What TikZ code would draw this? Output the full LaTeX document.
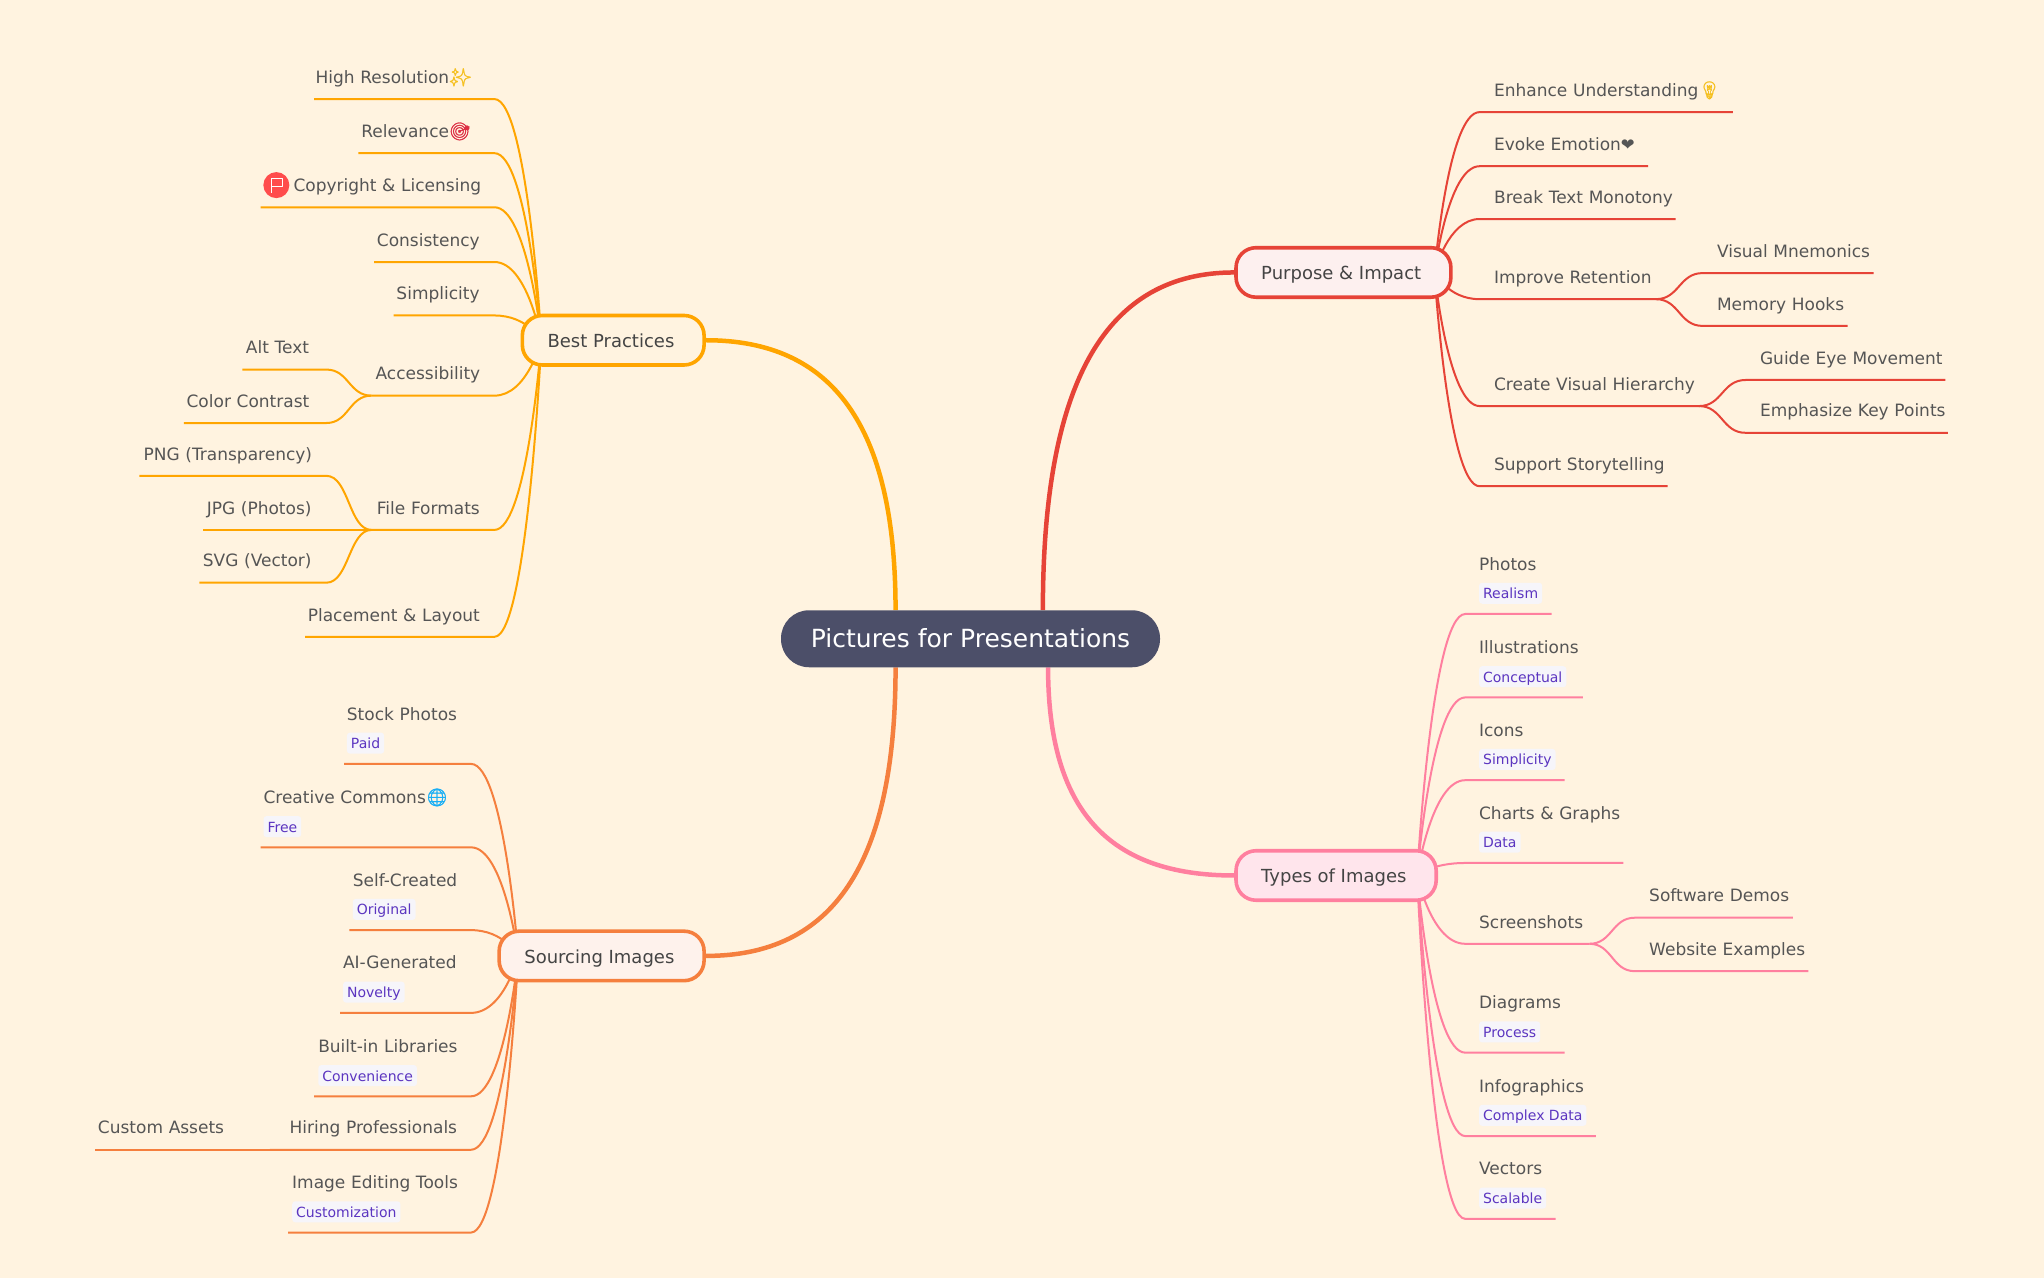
\documentclass[tikz,border=0pt]{standalone}
\usepackage{fontspec}
\setmainfont{DejaVu Sans}
\newfontfamily\emojifont[FakeBold=1.5]{Noto Emoji}
\usetikzlibrary{calc,backgrounds}

\definecolor{paper}{HTML}{FFF3E0}
\definecolor{rootfill}{HTML}{4C4F69}
\definecolor{bodytext}{HTML}{555555}
\definecolor{maintext}{HTML}{444444}
\definecolor{tagtext}{HTML}{5B35C0}
\definecolor{tagfill}{HTML}{F6F5FA}
\definecolor{purposecol}{HTML}{E64337}
\definecolor{bestcol}{HTML}{FFA500}
\definecolor{sourcecol}{HTML}{F57F3E}
\definecolor{typescol}{HTML}{FF7F9F}
\definecolor{emoyellow}{HTML}{F5C020}
\definecolor{emored}{HTML}{DD2E44}
\definecolor{emoblue}{HTML}{18AEF5}

\newcommand{\emo}[2]{\makebox[28.7pt][l]{\color{#1}\fontsize{17.5}{20}\emojifont #2}}

\begin{document}
\begin{tikzpicture}[
    x=1.3036pt,
    y=-1.3036pt,
    rootnode/.style={
        rectangle,
        fill=rootfill,
        text=white,
        rounded corners=28pt,
        minimum width=379pt,
        minimum height=57pt,
        inner sep=0pt,
        text height=21pt,
        text depth=4pt,
        font=\fontsize{25}{30}\selectfont,
    },
    mainnode/.style={
        rectangle,
        line width=3.6pt,
        rounded corners=20pt,
        minimum height=49.5pt,
        inner xsep=25.2pt,
        inner ysep=0pt,
        text=maintext,
        text height=15pt,
        text depth=0pt,
        font=\fontsize{18}{22}\selectfont,
        execute at end node={\kern4.5pt},
    },
    plainleaf/.style={
        inner sep=0pt,
        rectangle,
        anchor=south west,
        align=left,
        text=bodytext,
        text height=14pt,
        text depth=15.6pt,
        font=\fontsize{17}{20}\selectfont,
    },
    tagleaf/.style={
        plainleaf,
        text depth=43.7pt,
    },
    tagnode/.style={
        inner ysep=0pt,
        inner xsep=4pt,
        rectangle,
        anchor=south west,
        fill=tagfill,
        rounded corners=3pt,
        text=tagtext,
        text height=16pt,
        text depth=5pt,
        font=\fontsize{14}{17}\selectfont,
    },
    redline/.style={draw=purposecol,line width=2pt},
    orangeline/.style={draw=bestcol,line width=2pt},
    sourceline/.style={draw=sourcecol,line width=2pt},
    pinkline/.style={draw=typescol,line width=2pt},
    mainline/.style={line width=4.5pt},
]
    \useasboundingbox (0,0) rectangle (1568,980.36);
    \begin{pgfonlayer}{background}
        \fill[paper] (0,0) rectangle (1568,980.36);
    \end{pgfonlayer}

    \node[rootnode] (root) at (744.5,490) {Pictures for Presentations};
    \node[mainnode,draw=purposecol,fill=purposecol!8!white,anchor=west] (purpose) at (946.8,209) {Purpose \& Impact};
    \node[mainnode,draw=bestcol,fill=paper,anchor=east] (best) at (541.5,261) {Best Practices};
    \node[mainnode,draw=sourcecol,fill=sourcecol!10!white,anchor=east] (sourcing) at (541.5,733.3) {Sourcing Images};
    \node[mainnode,draw=typescol,fill=typescol!20!white,anchor=west] (types) at (946.8,671.6) {Types of Images};

    \coordinate (purposeport) at ($(purpose.east)+(-14,0)$);
    \coordinate (bestport) at ($(best.west)+(16,0)$);
    \coordinate (sourcingport) at ($(sourcing.west)+(16,0)$);
    \coordinate (typesport) at ($(types.east)+(-16,0)$);
    \coordinate (rootred) at ($(root.north)+(55.5,0)$);
    \coordinate (rootorange) at ($(root.north)+(-57.5,0)$);
    \coordinate (rootsource) at ($(root.south)+(-57.5,0)$);
    \coordinate (rootpink) at ($(root.south)+(59.5,0)$);

    \begin{pgfonlayer}{background}
        \draw[redline,mainline] (rootred) .. controls +(0,-178) and +(-97,0) .. (purpose.west);
        \draw[orangeline,mainline] (rootorange) .. controls +(0,-142) and +(97,0) .. (best.east);
        \draw[sourceline,mainline] (rootsource) .. controls +(0,152) and +(97,0) .. (sourcing.east);
        \draw[pinkline,mainline] (rootpink) .. controls +(0,109) and +(-97,0) .. (types.west);
    \end{pgfonlayer}

    \foreach \col/\port/\near/\far/\rows in {
        redline/purposeport/south west/south east/{
            enhance/1135/1329/1146/86/{Enhance Understanding\emo{emoyellow}{💡}}/-,
            emotion/1135/1264/1146/127.5/{Evoke Emotion{\fontsize{16.5}{20}\selectfont❤}}/-,
            monotony/1135/1285/1146/168/{Break Text Monotony}/-,
            retention/1135/1270/1146/229.5/{Improve Retention}/-,
            hierarchy/1135/1303/1146/311.5/{Create Visual Hierarchy}/-,
            storytelling/1135/1279/1146/373/{Support Storytelling}/-},
        orangeline/bestport/south east/south west/{
            resolution/241/379/242/76/{High Resolution\emo{emoyellow}{✨}}/-,
            relevance/275/379/277/117.5/{Relevance\emo{emored}{🎯}}/-,
            copyright/200/379/225/159/{Copyright \& Licensing}/-,
            consistency/287/379/289/201/{Consistency}/-,
            simplicity/302/379/304/242/{Simplicity}/-,
            accessibility/285/379/288/303.5/{Accessibility}/-,
            formats/285/379/289/406.5/{File Formats}/-,
            placement/234/379/236/488.5/{Placement \& Layout}/-},
        sourceline/sourcingport/south east/south west/{
            stock/264/361/266/586/{Stock Photos}/Paid,
            commons/200/361/202/650/{Creative Commons\emo{emoblue}{🌐}}/Free,
            selfmade/268/361/270.5/713.5/{Self-Created}/Original,
            generated/261/361/263/777/{AI-Generated}/Novelty,
            libraries/241/361/244/841/{Built-in Libraries}/Convenience,
            hiring/207/361/222/882/{Hiring Professionals}/-,
            editing/221/361/224/945.5/{Image Editing Tools}/Customization},
        pinkline/typesport/south west/south east/{
            photos/1124/1190/1134.5/471/{Photos}/Realism,
            illustrations/1124/1214/1134.5/535/{Illustrations}/Conceptual,
            icons/1124/1200/1134.5/598.5/{Icons}/Simplicity,
            charts/1124/1245/1134.5/662/{Charts \& Graphs}/Data,
            screenshots/1124/1219/1134.5/724/{Screenshots}/-,
            diagrams/1124/1200/1134.5/807.5/{Diagrams}/Process,
            infographics/1124/1224/1134.5/871.5/{Infographics}/{Complex Data},
            vectors/1124/1193/1134.5/935/{Vectors}/Scalable}} {
        \foreach \name/\xa/\xb/\xt/\y/\txt/\tagtxt in \rows {
            \pgfmathsetmacro{\wide}{(\xb-\xa)*1.3036}
            \pgfmathsetmacro{\pad}{(\xt-\xa)*1.3036}
            \def\notag{-}
            \ifx\tagtxt\notag\def\kind{plainleaf}\else\def\kind{tagleaf}\fi
            \node[\kind,text width=\wide pt] (\name) at (\xa,\y) {\hspace*{\pad pt}\txt};
            \ifx\tagtxt\notag\else
                \node[tagnode] (\name tag) at ($(\name.south west)+(\xt-\xa,-7.7)$) {\tagtxt};
            \fi
            \begin{pgfonlayer}{background}
                \draw[\col] (\port) .. controls (\port) and ($(\port |- \name.\near)!0.3!(\name.\near)$) .. (\name.\near) -- (\name.\far);
            \end{pgfonlayer}
        }
    }

    \foreach \col/\parent/\near/\far/\name/\xa/\xb/\xt/\y/\txt in {
        redline/retention/south west/south east/mnemonics/1306/1437/1317/209.5/{Visual Mnemonics},
        redline/retention/south west/south east/hooks/1306/1417/1317/250/{Memory Hooks},
        redline/hierarchy/south west/south east/guide/1339/1492/1350/291.5/{Guide Eye Movement},
        redline/hierarchy/south west/south east/emphasize/1339/1494/1350/332/{Emphasize Key Points},
        orangeline/accessibility/south east/south west/alttext/186/250/188.5/283.5/{Alt Text},
        orangeline/accessibility/south east/south west/contrast/141/250/143/324.5/{Color Contrast},
        orangeline/formats/south east/south west/png/107/250/110/365/{PNG (Transparency)},
        orangeline/formats/south east/south west/jpg/156/250/158.5/406.5/{JPG (Photos)},
        orangeline/formats/south east/south west/svg/153/250/155.5/447/{SVG (Vector)},
        sourceline/hiring/south east/south west/assets/73/174/75/882/{Custom Assets},
        pinkline/screenshots/south west/south east/demos/1254/1375/1265/704/{Software Demos},
        pinkline/screenshots/south west/south east/examples/1254/1387/1265/745/{Website Examples}} {
        \pgfmathsetmacro{\wide}{(\xb-\xa)*1.3036}
        \pgfmathsetmacro{\pad}{(\xt-\xa)*1.3036}
        \node[plainleaf,text width=\wide pt] (\name) at (\xa,\y) {\hspace*{\pad pt}\txt};
        \begin{pgfonlayer}{background}
            \draw[\col] (\parent.\far) .. controls ($(\parent.\far)!0.5!(\name.\near |- \parent.\far)$) and ($(\parent.\far |- \name.\near)!0.5!(\name.\near)$) .. (\name.\near) -- (\name.\far);
        \end{pgfonlayer}
    }

    % flag badge in front of the licensing row
    \node[circle,fill=red!70!white,minimum size=26pt,inner sep=0pt] (flagicon) at (212,142) {};
    \draw[white,line width=1pt,line join=round] ($(flagicon)+(-4,6)$) -- ($(flagicon)+(-4,-5)$) -- ($(flagicon)+(4.5,-5)$) -- ($(flagicon)+(4.5,1)$) -- ($(flagicon)+(-4,1)$);
\end{tikzpicture}
\end{document}
